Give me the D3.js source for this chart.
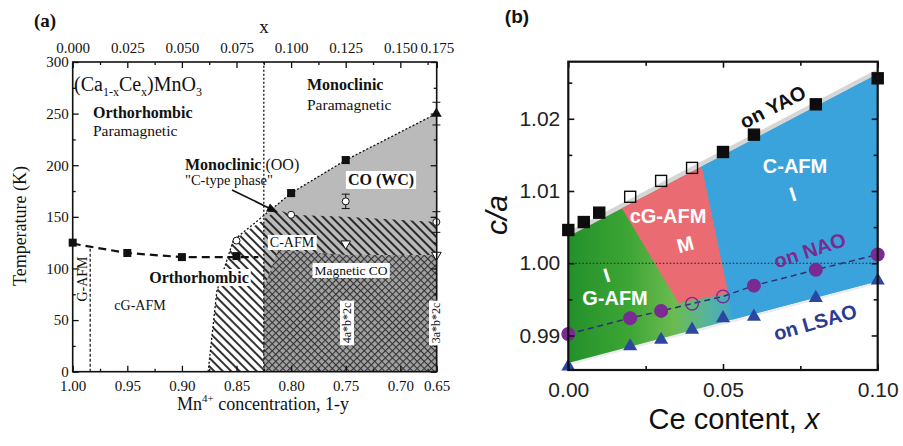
<!DOCTYPE html>
<html lang="en">
<head>
<meta charset="UTF-8">
<title>CaCeMnO3 phase diagrams</title>
<style>
  body { margin: 0; background: #fff; }
  text { font-family: "Liberation Serif", "Times New Roman", serif; fill: #111; }
  .pb text { font-family: "Liberation Sans", Arial, sans-serif; }
</style>
</head>
<body>
<svg width="903" height="446" class="svgs"></svg>
<script src="https://cdn.jsdelivr.net/npm/d3@7/dist/d3.min.js"></script>
<script>
// ---------- panel (a) data ----------
const mnTicks = [1.00, 0.95, 0.90, 0.85, 0.80, 0.75, 0.70, 0.6667]
const mnTickLabels = ['1.00', '0.95', '0.90', '0.85', '0.80', '0.75', '0.70', '0.65']
const mnMinor = [0.975, 0.925, 0.875, 0.825, 0.775, 0.725, 0.675]
const ceTicks = [0, 0.025, 0.05, 0.075, 0.1, 0.125, 0.15, 0.1667]
const ceTickLabels = ['0.000', '0.025', '0.050', '0.075', '0.100', '0.125', '0.150', '0.175']
const ceMinor = [0.0125, 0.0375, 0.0625, 0.0875, 0.1125, 0.1375, 0.1625]
const tTicks = [0, 50, 100, 150, 200, 250, 300]
const tMinor = [25, 75, 125, 175, 225, 275]

const tnSquares = [[1.00, 125], [0.95, 115], [0.90, 111], [0.85, 112], [0.80, 173], [0.75, 205]]
const tnLine = [[1.00, 124], [0.95, 115], [0.90, 111], [0.85, 111], [0.83, 111]]
const tcoTriangle = [[0.667, 250]]
const toOpenCircles = [[0.85, 127], [0.80, 152], [0.75, 165], [0.667, 145]]
const tOpenDown = [[0.75, 124], [0.667, 113]]
const errorBars = [[0.667, 250, 11], [0.667, 145, 10], [0.75, 165, 7], [0.75, 205, 3], [0.80, 173, 3]]

const coRegion = [[0.825, 0], [0.825, 151], [0.80, 173], [0.75, 205], [0.667, 250], [0.667, 0]]
const hatchRegion = [[0.876, 0], [0.868, 78], [0.853, 127], [0.812, 157], [0.80, 152], [0.75, 150], [0.667, 145], [0.667, 0]]
const crossRegion = [[0.825, 0], [0.825, 80], [0.812, 118], [0.75, 113], [0.667, 113], [0.667, 0]]
const upperBoundary = [[0.876, 0], [0.868, 78], [0.853, 127], [0.80, 173], [0.75, 205], [0.667, 250]]
const gafmBoundary = [[0.984, 0], [0.984, 122]]
const ceBoundary = 0.0875

// ---------- panel (b) data ----------
const yaoX = [0, 0.005, 0.01, 0.02, 0.03, 0.04, 0.05, 0.06, 0.08, 0.10]
const yaoCa = [1.0046, 1.0057, 1.0070, 1.0092, 1.0114, 1.0132, 1.0154, 1.0178, 1.0220, 1.0256]
const yaoOpen = [false, false, false, true, true, true, false, false, false, false]
const subX = [0, 0.02, 0.03, 0.04, 0.05, 0.06, 0.08, 0.10]
const naoCa = [0.9902, 0.9924, 0.9934, 0.9944, 0.9954, 0.9969, 0.9991, 1.0012]
const naoOpen = [false, false, false, true, true, false, false, false]
const lsaoCa = [0.9857, 0.9885, 0.9894, 0.9908, 0.9924, 0.9926, 0.9952, 0.9976]
const caTicks = [0.99, 1.00, 1.01, 1.02]
const caMinor = [0.995, 1.005, 1.015, 1.025]
const xbTicks = [0, 0.05, 0.10]
const xbMinor = [0.025, 0.075]

const bandTop = [[0, 1.0037], [0.10, 1.0262]]
const bandBottom = [[0, 0.9862], [0.10, 0.9975]]
const pinkRegion = [[0.0173, 1.0076], [0.0431, 1.0134], [0.0517, 0.9958], [0.0356, 0.9945]]
const blueRegion = [[0.0431, 1.0134], [0.10, 1.0262], [0.10, 0.9975], [0.053, 0.9922], [0.0517, 0.9958]]

const mainsvg = d3.select('.svgs')
const defs = mainsvg.append('defs')

// patterns
const diag = defs.append('pattern').attr('id', 'diag')
  .attr('patternUnits', 'userSpaceOnUse').attr('width', 6).attr('height', 6)
  .attr('patternTransform', 'rotate(-45)')
diag.append('line').attr('x1', 3).attr('y1', 0).attr('x2', 3).attr('y2', 6)
  .attr('stroke', '#1a1a1a').attr('stroke-width', 1.8)

const cross = defs.append('pattern').attr('id', 'cross')
  .attr('patternUnits', 'userSpaceOnUse').attr('width', 5).attr('height', 5)
  .attr('patternTransform', 'rotate(45)')
cross.append('rect').attr('width', 5).attr('height', 5).attr('fill', '#a2a2a2')
cross.append('line').attr('x1', 0.5).attr('y1', 0).attr('x2', 0.5).attr('y2', 5)
  .attr('stroke', '#333').attr('stroke-width', 1.2)
cross.append('line').attr('x1', 0).attr('y1', 0.5).attr('x2', 5).attr('y2', 0.5)
  .attr('stroke', '#333').attr('stroke-width', 1.2)

const grad = defs.append('linearGradient').attr('id', 'band')
  .attr('gradientUnits', 'userSpaceOnUse')
  .attr('x1', 568).attr('y1', 0).attr('x2', 745).attr('y2', 0)
grad.selectAll('stop')
  .data([[0, '#22902a'], [0.35, '#3ea635'], [0.6, '#6cbb50'], [0.8, '#55b3a2'], [1, '#3aa3dc']])
  .join('stop').attr('offset', d => d[0]).attr('stop-color', d => d[1])

function addText(g, str, x, y, o = {}) {
  const t = g.append('text').attr('x', x).attr('y', y).text(str)
    .attr('font-size', o.size || 15)
    .attr('font-weight', o.weight || 'normal')
    .attr('font-style', o.style || 'normal')
    .attr('text-anchor', o.anchor || 'start')
  if (o.fill) t.style('fill', o.fill)
  if (o.rotate) t.attr('transform', `rotate(${o.rotate},${x},${y})`)
  if (o.bg) {
    const b = t.node().getBBox()
    const r = g.insert('rect', () => t.node())
      .attr('x', b.x - 2).attr('y', b.y).attr('width', b.width + 4).attr('height', b.height)
      .attr('fill', '#fff')
    if (o.rotate) r.attr('transform', `rotate(${o.rotate},${x},${y})`)
  }
  return t
}

// ================= panel (a) =================
const xa = d3.scaleLinear().domain([1.0, 0.6667]).range([72.7, 436.7])
const xTop = d3.scaleLinear().domain([0, 1 / 6]).range([72.7, 436.7])
const ya = d3.scaleLinear().domain([0, 300]).range([371.7, 62])
const ga = mainsvg.append('g')
const lineA = d3.line().x(d => xa(d[0])).y(d => ya(d[1]))

ga.append('path').attr('d', lineA(coRegion) + 'Z').attr('fill', '#bababa')
ga.append('path').attr('d', lineA(hatchRegion) + 'Z').attr('fill', 'url(#diag)')
ga.append('path').attr('d', lineA(crossRegion) + 'Z').attr('fill', 'url(#cross)')

ga.append('path').attr('d', lineA(upperBoundary)).attr('fill', 'none')
  .attr('stroke', '#111').attr('stroke-width', 1.3).attr('stroke-dasharray', '2,2')
ga.append('path').attr('d', lineA(gafmBoundary)).attr('fill', 'none')
  .attr('stroke', '#111').attr('stroke-width', 1.2).attr('stroke-dasharray', '3,2')
ga.append('line').attr('x1', xTop(ceBoundary)).attr('x2', xTop(ceBoundary))
  .attr('y1', ya(0)).attr('y2', ya(300))
  .attr('stroke', '#111').attr('stroke-width', 1.3).attr('stroke-dasharray', '2,2')
ga.append('path').attr('d', lineA(tnLine)).attr('fill', 'none')
  .attr('stroke', '#111').attr('stroke-width', 2.2).attr('stroke-dasharray', '8,5')

// error bars
errorBars.forEach(d => {
  const x = xa(d[0])
  ga.append('line').attr('x1', x).attr('x2', x).attr('y1', ya(d[1] - d[2])).attr('y2', ya(d[1] + d[2]))
    .attr('stroke', '#111').attr('stroke-width', 1)
  ;[d[1] - d[2], d[1] + d[2]].forEach(v => ga.append('line')
    .attr('x1', x - 4).attr('x2', x + 4).attr('y1', ya(v)).attr('y2', ya(v))
    .attr('stroke', '#111').attr('stroke-width', 1))
})

ga.selectAll('.sq').data(tnSquares).join('rect')
  .attr('x', d => xa(d[0]) - 4).attr('y', d => ya(d[1]) - 4)
  .attr('width', 8).attr('height', 8).attr('fill', '#111')
ga.selectAll('.tri').data(tcoTriangle).join('path')
  .attr('d', d3.symbol(d3.symbolTriangle, 50))
  .attr('transform', d => `translate(${xa(d[0])},${ya(d[1])})`).attr('fill', '#111')
ga.selectAll('.oc').data(toOpenCircles).join('circle')
  .attr('cx', d => xa(d[0])).attr('cy', d => ya(d[1])).attr('r', 3.5)
  .attr('fill', '#fff').attr('stroke', '#111').attr('stroke-width', 1)
ga.selectAll('.od').data(tOpenDown).join('path')
  .attr('d', d3.symbol(d3.symbolTriangle, 40))
  .attr('transform', d => `translate(${xa(d[0])},${ya(d[1])}) rotate(180)`)
  .attr('fill', '#fff').attr('stroke', '#111').attr('stroke-width', 1)

// arrow
defs.append('marker').attr('id', 'arr').attr('viewBox', '0 0 10 10')
  .attr('refX', 9).attr('refY', 5).attr('markerWidth', 7).attr('markerHeight', 7)
  .attr('orient', 'auto').append('path').attr('d', 'M0,1 L10,5 L0,9 Z').attr('fill', '#111')
ga.append('line').attr('x1', 232).attr('y1', 190).attr('x2', 277).attr('y2', 212)
  .attr('stroke', '#111').attr('stroke-width', 1.6).attr('marker-end', 'url(#arr)')

// axes (a)
function axesA() {
  const ax = (axis, vals, size, fmt) => axis.tickValues(vals).tickSize(size).tickPadding(4).tickFormat(fmt)
  const none = () => ''
  const add = (axis, tr, cls) => {
    const a = ga.append('g').attr('class', cls).attr('transform', tr).call(axis)
    a.select('.domain').remove()
    a.selectAll('line').attr('stroke', '#111').attr('stroke-width', 1.3)
    return a
  }
  add(ax(d3.axisBottom(xa), mnTicks, -6, (d, i) => mnTickLabels[i]), `translate(0,${ya(0)})`, 'ab')
    .selectAll('text').attr('font-size', 15).attr('dy', '1.05em')
  add(ax(d3.axisBottom(xa), mnMinor, -3, none), `translate(0,${ya(0)})`, 'abm')
  add(ax(d3.axisTop(xTop), ceTicks, -6, (d, i) => ceTickLabels[i]), `translate(0,${ya(300)})`, 'at')
    .selectAll('text').attr('font-size', 15).attr('dy', '-0.35em')
  add(ax(d3.axisTop(xTop), ceMinor, -3, none), `translate(0,${ya(300)})`, 'atm')
  add(ax(d3.axisLeft(ya), tTicks, -6, d3.format('d')), `translate(${xa(1)},0)`, 'al')
    .selectAll('text').attr('font-size', 15)
  add(ax(d3.axisLeft(ya), tMinor, -3, none), `translate(${xa(1)},0)`, 'alm')
  add(ax(d3.axisRight(ya), tTicks, -6, none), `translate(${xa(0.6667)},0)`, 'ar')
  add(ax(d3.axisRight(ya), tMinor, -3, none), `translate(${xa(0.6667)},0)`, 'arm')
  ga.selectAll('.tick text').style('fill', '#111').attr('font-family', '"Liberation Serif", serif')
  ga.append('rect').attr('x', xa(1)).attr('y', ya(300))
    .attr('width', xa(0.6667) - xa(1)).attr('height', ya(0) - ya(300))
    .attr('fill', 'none').attr('stroke', '#111').attr('stroke-width', 1.6)
}
axesA()

// labels (a)
addText(ga, 'x', 264, 33, { size: 19, anchor: 'middle' })
const formula = ga.append('text').attr('x', 74).attr('y', 91).attr('font-size', 20)
formula.append('tspan').text('(Ca')
formula.append('tspan').text('1-x').attr('font-size', 12).attr('dy', 5)
formula.append('tspan').text('Ce').attr('dy', -5)
formula.append('tspan').text('x').attr('font-size', 12).attr('dy', 5)
formula.append('tspan').text(')MnO').attr('dy', -5)
formula.append('tspan').text('3').attr('font-size', 12).attr('dy', 5)

addText(ga, 'Orthorhombic', 93, 118, { size: 16, weight: 'bold' })
addText(ga, 'Paramagnetic', 93, 136, { size: 15.5 })
addText(ga, 'Monoclinic', 307, 90, { size: 16, weight: 'bold' })
addText(ga, 'Paramagnetic', 307, 110, { size: 15.5 })
const mono = ga.append('text').attr('x', 185).attr('y', 170).attr('font-size', 16)
mono.append('tspan').text('Monoclinic').attr('font-weight', 'bold')
mono.append('tspan').text(' (OO)')
addText(ga, '"C-type phase"', 185, 185, { size: 14.5 })
addText(ga, 'CO (WC)', 381, 185, { size: 16, weight: 'bold', anchor: 'middle', bg: true })
addText(ga, 'C-AFM', 292, 247, { size: 14, anchor: 'middle', bg: true })
addText(ga, 'Magnetic CO', 351, 275, { size: 13.5, anchor: 'middle', bg: true })
addText(ga, 'Orthorhombic', 199, 283, { size: 16, weight: 'bold', anchor: 'middle', bg: true })
addText(ga, 'cG-AFM', 140, 310, { size: 14, anchor: 'middle' })
addText(ga, 'G-AFM', 87, 279, { size: 14, anchor: 'middle', rotate: -90 })
addText(ga, '4a*b*2c', 351, 323, { size: 12, anchor: 'middle', rotate: -90, bg: true })
addText(ga, '3a*b*2c', 440, 323, { size: 12, anchor: 'middle', rotate: -90, bg: true })
addText(ga, 'Temperature (K)', 26, 226, { size: 18, anchor: 'middle', rotate: -90 })
const mnLabel = ga.append('text').attr('x', 263).attr('y', 410).attr('font-size', 18).attr('text-anchor', 'middle')
mnLabel.append('tspan').text('Mn')
mnLabel.append('tspan').text('4+').attr('font-size', 11).attr('dy', -8)
mnLabel.append('tspan').text(' concentration, 1-y').attr('dy', 8)
addText(ga, '(a)', 45, 27, { size: 19, weight: 'bold', anchor: 'middle' })
  .attr('font-family', '"Liberation Sans", Arial, sans-serif')

// ================= panel (b) =================
const xb = d3.scaleLinear().domain([0, 0.10]).range([568.3, 877.7])
const yb = d3.scaleLinear().domain([0.98522, 1.0279]).range([370, 61.7])
const gb = mainsvg.append('g').attr('class', 'pb')
const lineB = d3.line().x(d => xb(d[0])).y(d => yb(d[1]))

const band = [bandTop[0], bandTop[1], bandBottom[1], bandBottom[0]]
gb.append('path').attr('d', lineB(bandTop)).attr('stroke', '#d6d6d6').attr('stroke-width', 9).attr('fill', 'none')
gb.append('path').attr('d', lineB(bandBottom)).attr('stroke', '#ececec').attr('stroke-width', 5).attr('fill', 'none')
gb.append('path').attr('d', lineB(band) + 'Z').attr('fill', 'url(#band)')
gb.append('path').attr('d', lineB(blueRegion) + 'Z').attr('fill', '#3aa3dc')
gb.append('path').attr('d', lineB(pinkRegion) + 'Z').attr('fill', '#ea6b72')

gb.append('line').attr('x1', xb(0)).attr('x2', xb(0.10)).attr('y1', yb(1)).attr('y2', yb(1))
  .attr('stroke', '#222').attr('stroke-width', 1.2).attr('stroke-dasharray', '1.5,2')

const naoPts = subX.map((x, i) => [x, naoCa[i], naoOpen[i]])
gb.append('path').attr('d', lineB(naoPts)).attr('fill', 'none')
  .attr('stroke', '#33306e').attr('stroke-width', 1.5).attr('stroke-dasharray', '6,4')

const yaoPts = yaoX.map((x, i) => [x, yaoCa[i], yaoOpen[i]])
gb.selectAll('.yao').data(yaoPts).join('rect')
  .attr('x', d => xb(d[0]) - 5.5).attr('y', d => yb(d[1]) - 5.5)
  .attr('width', 11).attr('height', 11)
  .attr('fill', d => d[2] ? 'none' : '#0d0d0d')
  .attr('stroke', '#0d0d0d').attr('stroke-width', 1.4)
gb.selectAll('.nao').data(naoPts).join('circle')
  .attr('cx', d => xb(d[0])).attr('cy', d => yb(d[1])).attr('r', 6.3)
  .attr('fill', d => d[2] ? 'none' : '#7a2b92')
  .attr('stroke', '#7a2b92').attr('stroke-width', 1.4)
const lsaoPts = subX.map((x, i) => [x, lsaoCa[i]])
gb.selectAll('.lsao').data(lsaoPts).join('path')
  .attr('d', d3.symbol(d3.symbolTriangle, 85))
  .attr('transform', d => `translate(${xb(d[0])},${yb(d[1])})`)
  .attr('fill', '#2c47a2')

// axes (b)
function axesB() {
  const none = () => ''
  const add = (axis, vals, size, fmt, tr) => {
    const a = gb.append('g').attr('transform', tr)
      .call(axis.tickValues(vals).tickSize(size).tickPadding(8).tickFormat(fmt))
    a.select('.domain').remove()
    a.selectAll('line').attr('stroke', '#111').attr('stroke-width', 1.6)
    a.selectAll('text').attr('font-size', 21).style('fill', '#222')
      .attr('font-family', '"Liberation Sans", Arial, sans-serif')
    return a
  }
  add(d3.axisLeft(yb), caTicks, -6, d3.format('.2f'), `translate(${xb(0)},0)`)
  add(d3.axisLeft(yb), caMinor, -4, none, `translate(${xb(0)},0)`)
  add(d3.axisRight(yb), caTicks, -6, none, `translate(${xb(0.10)},0)`)
  add(d3.axisRight(yb), caMinor, -4, none, `translate(${xb(0.10)},0)`)
  add(d3.axisBottom(xb), xbTicks, -6, d3.format('.2f'), `translate(0,${yb.range()[0]})`)
    .selectAll('text').attr('dy', '0.92em')
  add(d3.axisBottom(xb), xbMinor, -4, none, `translate(0,${yb.range()[0]})`)
  add(d3.axisTop(xb), xbTicks, -6, none, `translate(0,${yb.range()[1]})`)
  add(d3.axisTop(xb), xbMinor, -4, none, `translate(0,${yb.range()[1]})`)
  gb.append('rect').attr('x', xb(0)).attr('y', yb.range()[1])
    .attr('width', xb(0.10) - xb(0)).attr('height', yb.range()[0] - yb.range()[1])
    .attr('fill', 'none').attr('stroke', '#111').attr('stroke-width', 2.2)
}
axesB()

// labels (b)
addText(gb, 'on YAO', 776, 113, { size: 20, weight: 'bold', anchor: 'middle', rotate: -27 })
addText(gb, 'C-AFM', 795, 173, { size: 20, weight: 'bold', anchor: 'middle', fill: '#fff' })
addText(gb, 'I', 795, 201, { size: 20, weight: 'bold', anchor: 'middle', fill: '#fff', rotate: -18 })
addText(gb, 'cG-AFM', 668, 223, { size: 20, weight: 'bold', anchor: 'middle', fill: '#fff' })
addText(gb, 'M', 687, 251, { size: 20, weight: 'bold', anchor: 'middle', fill: '#fff', rotate: -15 })
addText(gb, 'I', 609, 282, { size: 20, weight: 'bold', anchor: 'middle', fill: '#fff', rotate: -18 })
addText(gb, 'G-AFM', 615, 305, { size: 20, weight: 'bold', anchor: 'middle', fill: '#fff' })
addText(gb, 'on NAO', 812, 257, { size: 20, weight: 'bold', anchor: 'middle', fill: '#7a2b92', rotate: -18 })
addText(gb, 'on LSAO', 817, 329, { size: 20, weight: 'bold', anchor: 'middle', fill: '#2c3a92', rotate: -16 })
addText(gb, 'c/a', 507, 215, { size: 30, style: 'italic', anchor: 'middle', rotate: -90 })
const xl = gb.append('text').attr('x', 734).attr('y', 429).attr('font-size', 29).attr('text-anchor', 'middle')
xl.append('tspan').text('Ce content, ')
xl.append('tspan').text('x').attr('font-style', 'italic')
addText(gb, '(b)', 517, 23, { size: 19, weight: 'bold', anchor: 'middle' })
</script>
</body>
</html>
